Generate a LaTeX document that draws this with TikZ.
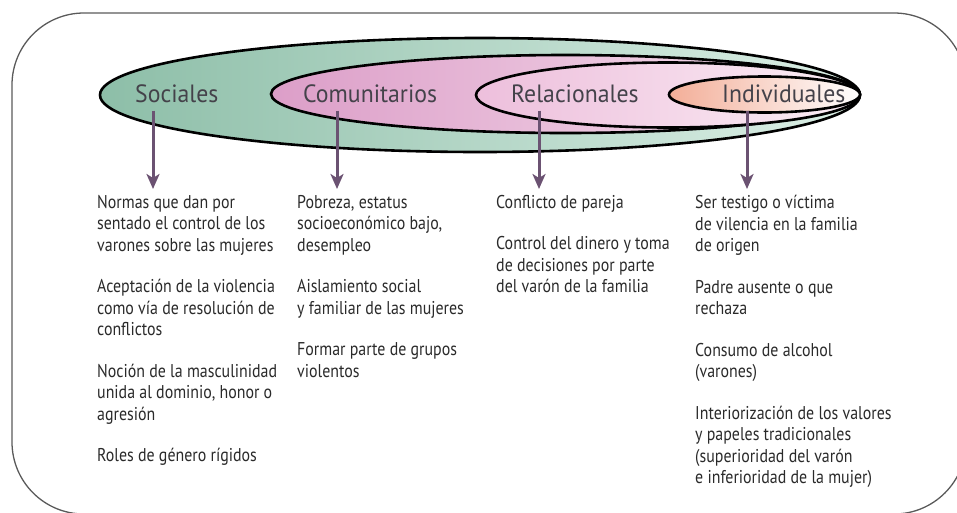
\documentclass[tikz,border=0pt]{standalone}
\usepackage{fontspec}
\setmainfont[FakeStretch=0.86]{PT Sans}
\newfontfamily\ringfont[FakeStretch=0.95]{PT Sans}
\usepackage{tikz}
\usetikzlibrary{shapes,arrows,arrows.meta,positioning,calc}

\definecolor{socL}{HTML}{8DBEA8}
\definecolor{socR}{HTML}{DCEFE6}
\definecolor{comL}{HTML}{DC9EC8}
\definecolor{comR}{HTML}{F7E3EF}
\definecolor{relL}{HTML}{EDBFDC}
\definecolor{relR}{HTML}{FBEEF5}
\definecolor{indL}{HTML}{F3AE98}
\definecolor{indR}{HTML}{FFFFFF}
\definecolor{lblGray}{HTML}{44424A}
\definecolor{txtGray}{HTML}{2A2A2A}
\definecolor{arrowPurple}{HTML}{6B5272}
\definecolor{frameGray}{HTML}{5A5A5A}

\begin{document}
\begin{tikzpicture}[
    x=1pt, y=-1pt,
    ring/.style={ellipse, draw=black, line width=2.6pt, inner sep=0pt},
    lbl/.style={font=\ringfont\fontsize{25}{29}\selectfont, text=lblGray, inner sep=0pt, anchor=base west},
    items/.style={font=\fontsize{18.5}{21.5}\selectfont, text=txtGray, align=left, inner sep=0pt, anchor=north west},
    arrow/.style={-{Stealth[length=15pt,width=13pt,inset=4pt]}, line width=3pt, draw=arrowPurple, shorten >=6pt}
]

\useasboundingbox (0,0) rectangle (957,512);

% Frame
\draw[frameGray, line width=1.3pt, rounded corners=72pt] (12,13) rectangle (966,514);

% Rings
\node[ring, left color=socL, right color=socR, minimum width=760pt, minimum height=114pt] (soc) at (480,95) {};
\node[ring, left color=comL, right color=comR, minimum width=589pt, minimum height=78pt] (com) at (565.5,94) {};
\node[ring, left color=relL, right color=relR, minimum width=384pt, minimum height=65pt] (rel) at (668,95) {};
\node[ring, left color=indL, right color=indR, minimum width=191pt, minimum height=36pt] (ind) at (764.5,94.5) {};

% Labels
\node[lbl] (socLabel) at (135,102) {Sociales};
\node[lbl] (comLabel) at (303,102) {Comunitarios};
\node[lbl] (relLabel) at (511,102) {Relacionales};
\node[lbl] (indLabel) at (722,102) {Individuales};

% Factors
\node[items] (socText) at (97,195) {Normas que dan por\\sentado el control de los\\varones sobre las mujeres\\[20pt]
    Aceptación de la violencia\\como vía de resolución de\\conflictos\\[20pt]
    Noción de la masculinidad\\unida al dominio, honor o\\agresión\\[20pt]
    Roles de género rígidos};
\node[items] (comText) at (297,195) {Pobreza, estatus\\socioeconómico bajo,\\desempleo\\[20pt]
    Aislamiento social\\y familiar de las mujeres\\[20pt]
    Formar parte de grupos\\violentos};
\node[items] (relText) at (496,195) {Conflicto de pareja\\[20pt]
    Control del dinero y toma\\de decisiones por parte\\del varón de la familia};
\node[items] (indText) at (695,195) {Ser testigo o víctima\\de vilencia en la familia\\de origen\\[20pt]
    Padre ausente o que\\rechaza\\[20pt]
    Consumo de alcohol\\(varones)\\[20pt]
    Interiorización de los valores\\y papeles tradicionales\\(superioridad del varón\\e inferioridad de la mujer)};

% Arrows
\draw[arrow] ([xshift=18pt,yshift=-8pt]socLabel.south west) -- ([xshift=18pt]socLabel.south west |- socText.north);
\draw[arrow] ([xshift=34pt,yshift=-8pt]comLabel.south west) -- ([xshift=34pt]comLabel.south west |- comText.north);
\draw[arrow] ([xshift=28pt,yshift=-8pt]relLabel.south west) -- ([xshift=28pt]relLabel.south west |- relText.north);
\draw[arrow] ([xshift=25pt,yshift=-8pt]indLabel.south west) -- ([xshift=25pt]indLabel.south west |- indText.north);

\end{tikzpicture}
\end{document}
